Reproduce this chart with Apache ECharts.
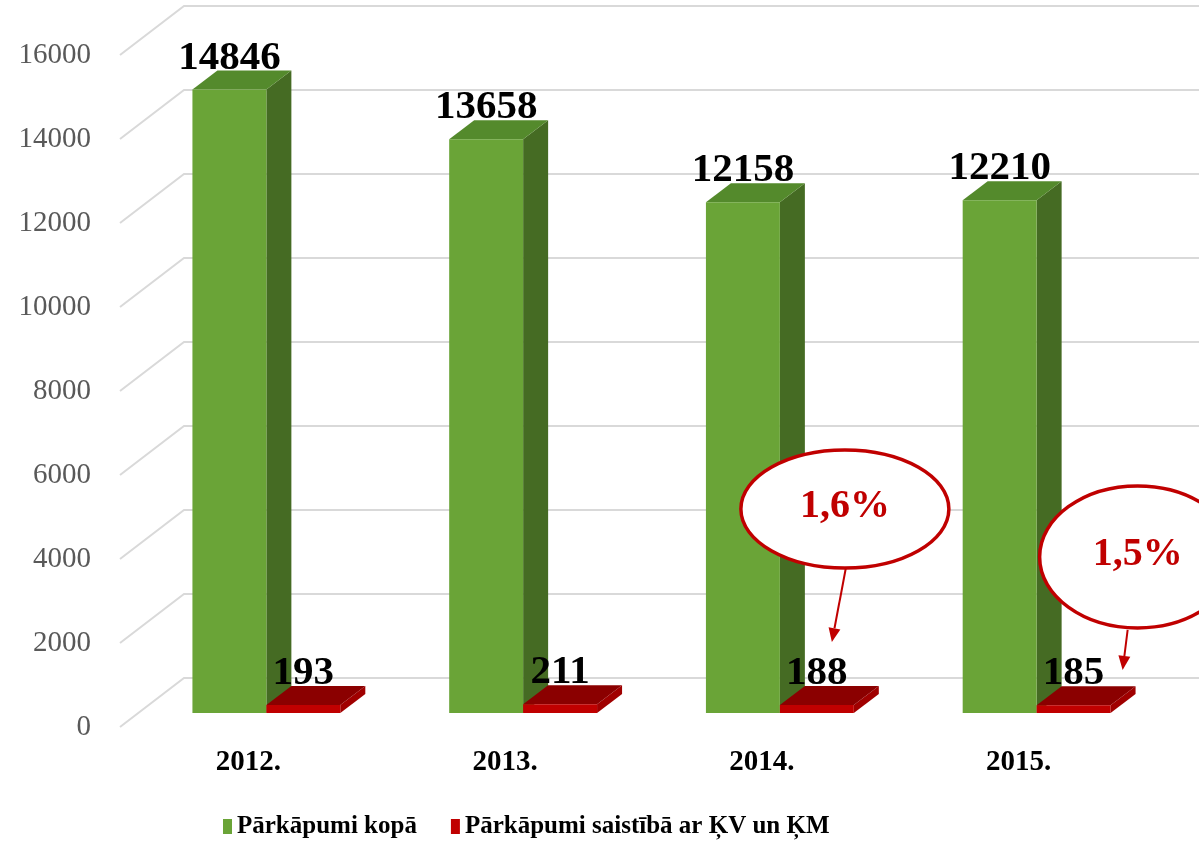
<!DOCTYPE html>
<html>
<head>
<meta charset="utf-8">
<script src="https://cdn.jsdelivr.net/npm/echarts@6/dist/echarts.min.js"></script>
<style>
  html, body { margin: 0; padding: 0; background: #fff; }
  #main { width: 1199px; height: 843px; }
</style>
</head>
<body>
<div id="main"></div>
<script>
// data
var years = ['2012.', '2013.', '2014.', '2015.']
var totalViolations = [14846, 13658, 12158, 12210]
var kvViolations = [193, 211, 188, 185]
var yTicks = [0, 2000, 4000, 6000, 8000, 10000, 12000, 14000, 16000]
var calloutYears = ['2014.', '2015.']
var calloutTexts = ['1,6%', '1,5%']

var seriesNames = ['Pārkāpumi kopā', 'Pārkāpumi saistībā ar ĶV un ĶM']

// 3d look: front face offset from the axis plane, and depth of the boxes
var PLANE_DX = 18, PLANE_DY = -14
var DEPTH_DX = 25, DEPTH_DY = -19
var WALL_DX = 64, WALL_DY = -49

var palettes = [
  { front: '#6aa437', side: '#456b23', top: '#548a2c' },
  { front: '#c00000', side: '#a00000', top: '#8b0000' }
]

function barRenderer(seriesIdx) {
  return function (params, api) {
    var idx = api.value(0)
    var val = api.value(1)
    var top = api.coord([idx, val])
    var base = api.coord([idx, 0])
    var bw = api.size([1, 0])[0] * 0.288
    var cx = top[0] + PLANE_DX
    var x0 = seriesIdx === 0 ? cx - bw : cx
    var x1 = x0 + bw
    var yTop = top[1] + PLANE_DY
    var yBot = base[1] + PLANE_DY
    var pal = palettes[seriesIdx]
    return {
      type: 'group',
      children: [
        {
          type: 'polygon',
          shape: { points: [[x1, yBot], [x1 + DEPTH_DX, yBot + DEPTH_DY], [x1 + DEPTH_DX, yTop + DEPTH_DY], [x1, yTop]] },
          style: { fill: pal.side }
        },
        {
          type: 'polygon',
          shape: { points: [[x0, yTop], [x0 + DEPTH_DX, yTop + DEPTH_DY], [x1 + DEPTH_DX, yTop + DEPTH_DY], [x1, yTop]] },
          style: { fill: pal.top }
        },
        {
          type: 'rect',
          shape: { x: x0, y: yTop, width: bw, height: yBot - yTop },
          style: { fill: pal.front }
        },
        {
          type: 'text',
          z2: 10,
          style: {
            text: String(val),
            x: (x0 + x1) / 2,
            y: yTop - 11,
            align: 'center',
            verticalAlign: 'bottom',
            font: 'bold 41px "Liberation Serif", "Times New Roman", serif',
            fill: '#000'
          }
        }
      ]
    }
  }
}

var myChart = echarts.init(document.getElementById('main'))

var option = {
  animation: false,
  backgroundColor: '#fff',
  grid: { left: 120, right: 52, top: 55, bottom: 116 },
  legend: {
    left: 218,
    top: 809,
    icon: 'rect',
    itemWidth: 9,
    itemHeight: 15,
    itemGap: 34,
    textStyle: {
      fontFamily: '"Liberation Serif", "Times New Roman", serif',
      fontWeight: 'bold',
      fontSize: 25,
      color: '#000'
    },
    data: seriesNames
  },
  xAxis: {
    type: 'category',
    data: years,
    axisLine: { show: false },
    axisTick: { show: false },
    axisLabel: {
      margin: 21,
      fontFamily: '"Liberation Serif", "Times New Roman", serif',
      fontWeight: 'bold',
      fontSize: 29,
      color: '#000'
    }
  },
  yAxis: {
    type: 'value',
    min: 0,
    max: 16000,
    interval: 2000,
    axisLine: { show: false },
    axisTick: { show: false },
    splitLine: { show: false },
    axisLabel: {
      margin: 29,
      formatter: function (v) { return String(v) },
      fontFamily: '"Liberation Serif", "Times New Roman", serif',
      fontSize: 29,
      color: '#595959'
    }
  },
  series: [
    {
      name: 'wall',
      type: 'custom',
      silent: true,
      z: 1,
      data: yTicks.map(function (v) { return [0, v] }),
      encode: { x: 0, y: 1 },
      renderItem: function (params, api) {
        var y = api.coord([0, api.value(1)])[1]
        var x0 = params.coordSys.x
        return {
          type: 'polyline',
          shape: { points: [[x0, y], [x0 + WALL_DX, y + WALL_DY], [1210, y + WALL_DY]] },
          style: { stroke: '#d9d9d9', lineWidth: 2, fill: null }
        }
      }
    },
    {
      name: seriesNames[0],
      type: 'custom',
      z: 3,
      itemStyle: { color: palettes[0].front },
      data: totalViolations.map(function (v, i) { return [i, v] }),
      encode: { x: 0, y: 1 },
      renderItem: barRenderer(0)
    },
    {
      name: seriesNames[1],
      type: 'custom',
      z: 4,
      itemStyle: { color: palettes[1].front },
      data: kvViolations.map(function (v, i) { return [i, v] }),
      encode: { x: 0, y: 1 },
      renderItem: barRenderer(1)
    }
  ]
}

myChart.setOption(option)

// callouts (ellipse + arrow), placed relative to the category positions
var calloutLayout = [
  { value: 5190, dx: 83, rx: 104, ry: 59, tail: [1, 59], head: [-13, 133] },
  { value: 4050, dx: 119, rx: 98, ry: 71, tail: [-10, 73], head: [-15, 113] }
]
var graphics = []
calloutYears.forEach(function (yr, i) {
  var L = calloutLayout[i]
  var p = myChart.convertToPixel({ gridIndex: 0 }, [years.indexOf(yr), L.value])
  var cx = p[0] + L.dx, cy = p[1]
  var t = [cx + L.tail[0], cy + L.tail[1]]
  var h = [cx + L.head[0], cy + L.head[1]]
  var ang = Math.atan2(h[1] - t[1], h[0] - t[0])
  var len = 14, half = 6
  var bx = h[0] - len * Math.cos(ang), by = h[1] - len * Math.sin(ang)
  var nx = -Math.sin(ang) * half, ny = Math.cos(ang) * half
  graphics.push({
    type: 'line', z: 20,
    shape: { x1: t[0], y1: t[1], x2: bx, y2: by },
    style: { stroke: '#c00000', lineWidth: 2 }
  })
  graphics.push({
    type: 'polygon', z: 20,
    shape: { points: [[h[0], h[1]], [bx + nx, by + ny], [bx - nx, by - ny]] },
    style: { fill: '#c00000' }
  })
  graphics.push({
    type: 'ellipse', z: 20,
    shape: { cx: cx, cy: cy, rx: L.rx, ry: L.ry },
    style: { fill: '#fff', stroke: '#c00000', lineWidth: 3.5 }
  })
  graphics.push({
    type: 'text', z: 21,
    style: {
      text: calloutTexts[i],
      x: cx, y: cy - 2,
      align: 'center', verticalAlign: 'middle',
      font: 'bold 40px "Liberation Serif", "Times New Roman", serif',
      fill: '#c00000'
    }
  })
})
myChart.setOption({ graphic: graphics })
</script>
</body>
</html>
